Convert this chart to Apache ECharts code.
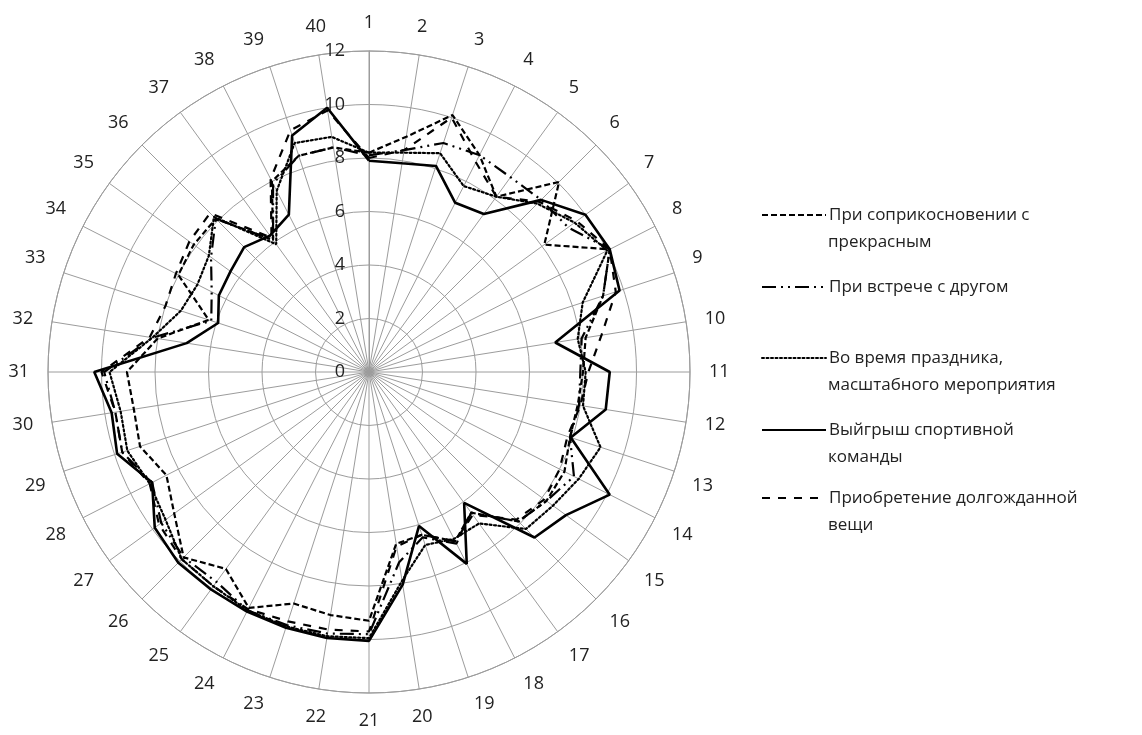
<!DOCTYPE html>
<html><head><meta charset="utf-8">
<script src="https://cdn.jsdelivr.net/npm/echarts@6/dist/echarts.min.js"></script>
<style>html,body{margin:0;padding:0;background:#fff}#c{width:1142px;height:735px}</style>
</head><body><div id="c"></div>
<script>
const categories = ['1','2','3','4','5','6','7','8','9','10','11','12','13','14','15','16','17','18','19','20',
  '21','22','23','24','25','26','27','28','29','30','31','32','33','34','35','36','37','38','39','40'];
const seriesNames = [
  'При соприкосновении с прекрасным',
  'При встрече с другом',
  'Во время праздника, масштабного мероприятия',
  'Выйгрыш спортивной команды',
  'Приобретение долгожданной вещи'
];
const legendFirstLines = ['При соприкосновении с', 'При встрече с другом', 'Во время праздника,', 'Выйгрыш спортивной', 'Приобретение долгожданной'];
const legendSecondLines = ['прекрасным', '', 'масштабного мероприятия', 'команды', 'вещи'];
const beauty = [8.2,8.9,10.1,9.1,8.1,10.05,8.1,10.1,9.2,8.2,8.0,7.9,7.9,8.2,8.2,7.9,6.5,7.1,6.4,6.5,
  9.3,9.2,9.1,9.9,9.1,9.8,9.0,8.5,9.0,8.9,9.05,8.0,6.3,8.0,8.1,8.1,6.1,8.0,8.5,8.5];
const friend = [8.1,8.4,9.0,9.1,9.0,9.1,9.2,10.1,9.2,8.05,7.9,7.95,7.9,8.6,8.2,7.9,6.5,7.2,6.5,7.2,
  9.8,9.9,9.95,10.0,9.7,9.8,9.6,9.1,9.7,9.6,9.9,8.2,6.2,6.6,7.3,8.1,6.1,7.9,8.5,8.5];
const holiday = [8.2,8.3,8.6,7.8,8.1,8.9,9.5,10.0,8.4,7.9,8.1,8.1,9.1,8.8,8.5,8.3,7.0,7.0,6.8,7.9,
  9.95,10.0,10.0,10.0,9.9,9.9,9.4,9.2,9.5,9.4,9.7,8.2,7.4,7.2,7.4,8.2,5.9,7.6,9.0,8.9];
const sportWin = [7.9,7.9,8.1,7.1,7.3,9.1,10.0,10.1,9.85,7.05,9.0,8.96,7.93,10.1,9.1,8.75,6.05,8.05,6.05,8.05,
  10.05,10.07,10.05,10.05,10.05,10.08,9.9,9.1,9.9,9.74,10.27,6.9,5.93,6.3,6.4,6.6,6.3,6.6,9.3,10.0];
const purchase = [8.0,8.4,10.0,8.8,8.1,9.0,9.6,10.1,9.7,8.8,8.2,8.0,7.8,8.0,8.1,7.8,6.6,7.1,6.4,6.6,
  9.7,9.75,9.8,9.95,9.9,9.9,9.7,9.2,9.7,9.6,10.0,8.3,8.0,8.1,8.3,8.4,6.2,8.1,9.5,9.9];
const radiusMax = 12, radiusStep = 2;

const values = [beauty, friend, holiday, sportWin, purchase];
const dashes = [[6,3],[14,5,2,5,2,5],[2,2.5],'solid',[8,8]];
const widths = [2.2,2.2,2.2,2.6,2.2];
const FONT = 'Open Sans';
const grid = '#9c9c9c';
const txt = '#222';

function toPolar(arr){ const d = arr.map((v,i)=>[v,i]); d.push([arr[0], arr.length]); return d; }

const chart = echarts.init(document.getElementById('c'), null, {renderer:'canvas'});
const legendTops = [215, 287, 358, 430, 498];
const legends = seriesNames.map((n,i)=>({
  data:[n], left:761, top:legendTops[i]-11, padding:0, itemWidth:64, itemHeight:14, itemGap:0,
  formatter: () => legendFirstLines[i],
  itemStyle:{opacity:0},
  textStyle:{fontFamily:FONT, fontSize:17, color:txt, lineHeight:22, padding:[0,0,0,-2]},
  selectedMode:false
}));
const graphics = legendSecondLines.map((t,i)=>({
  type:'text', x:828, y:legendTops[i]+27,
  style:{text:t, font:'17px "'+FONT+'"', fill:txt, verticalAlign:'middle', align:'left'}
})).filter(g=>g.style.text);

chart.setOption({
  backgroundColor:'#fff',
  animation:false,
  polar:{center:[369,372], radius:321},
  angleAxis:{type:'value', min:0, max:categories.length, interval:1, startAngle:90, clockwise:true,
    axisLine:{show:true, lineStyle:{color:grid, width:1}}, axisTick:{show:false},
    splitLine:{show:true, lineStyle:{color:grid, width:1}},
    axisLabel:{margin:19, fontFamily:FONT, fontSize:18, color:txt,
      formatter: v => v < categories.length ? categories[v] : ''}},
  radiusAxis:{type:'value', min:0, max:radiusMax, interval:radiusStep,
    axisLine:{show:true, lineStyle:{color:grid}}, axisTick:{show:false},
    splitLine:{show:true, lineStyle:{color:grid, width:1}},
    axisLabel:{margin:24, fontFamily:FONT, fontSize:18, color:txt}},
  legend: legends,
  graphic: graphics,
  series: values.map((arr,i)=>({
    name: seriesNames[i], type:'line', coordinateSystem:'polar', data: toPolar(arr),
    symbol:'none', smooth:false,
    lineStyle:{color:'#000', width:widths[i], type:dashes[i], cap: i===2?'round':'butt'},
    itemStyle:{color:'#000'}
  }))
});
</script></body></html>
